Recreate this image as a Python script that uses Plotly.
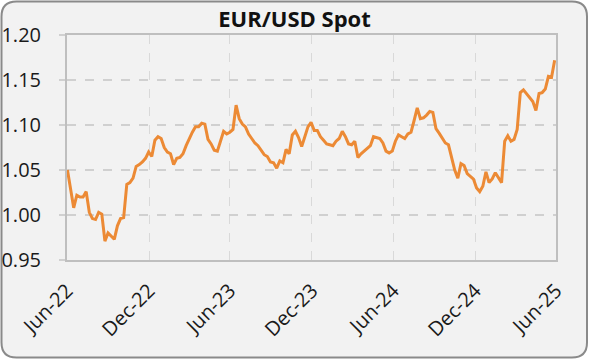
import pandas as pd
import plotly.graph_objects as go

# ---- data (weekly EUR/USD spot) ----
start_date = "2022-07-01"
eurusd = [
    1.050, 1.028, 1.008, 1.022, 1.020, 1.020, 1.026, 1.003, 0.996, 0.995,
    1.003, 1.001, 0.971, 0.980, 0.976, 0.973, 0.988, 0.996, 0.997, 1.034,
    1.036, 1.041, 1.054, 1.056, 1.059, 1.063, 1.070, 1.065, 1.083, 1.087,
    1.085, 1.075, 1.070, 1.068, 1.056, 1.063, 1.064, 1.068, 1.077, 1.085,
    1.092, 1.098, 1.098, 1.102, 1.101, 1.084, 1.079, 1.072, 1.071, 1.082,
    1.093, 1.090, 1.092, 1.095, 1.122, 1.107, 1.101, 1.098, 1.090, 1.085,
    1.080, 1.077, 1.072, 1.067, 1.065, 1.059, 1.058, 1.052, 1.060, 1.058,
    1.073, 1.068, 1.089, 1.093, 1.086, 1.076, 1.087, 1.098, 1.103, 1.094,
    1.094, 1.087, 1.083, 1.079, 1.078, 1.077, 1.082, 1.085, 1.093, 1.087,
    1.079, 1.078, 1.082, 1.064, 1.068, 1.071, 1.075, 1.077, 1.087, 1.086,
    1.085, 1.080, 1.071, 1.069, 1.071, 1.082, 1.089, 1.087, 1.085, 1.090,
    1.092, 1.105, 1.119, 1.107, 1.108, 1.111, 1.115, 1.114, 1.096, 1.091,
    1.085, 1.080, 1.078, 1.065, 1.050, 1.041, 1.057, 1.055, 1.046, 1.043,
    1.040, 1.030, 1.026, 1.032, 1.048, 1.036, 1.040, 1.047, 1.042, 1.036,
    1.082, 1.088, 1.082, 1.084, 1.095, 1.136, 1.139, 1.135, 1.130, 1.126,
    1.116, 1.135, 1.136, 1.140, 1.154, 1.153, 1.172,
]
dates = pd.date_range(start_date, periods=len(eurusd), freq="7D")

tick_dates = ["2022-06-30", "2022-12-31", "2023-06-30", "2023-12-31",
              "2024-06-30", "2024-12-31", "2025-06-30"]
tick_labels = ["Jun-22", "Dec-22", "Jun-23", "Dec-23", "Jun-24", "Dec-24", "Jun-25"]
y_ticks = [0.95, 1.00, 1.05, 1.10, 1.15, 1.20]
title_text = "EUR/USD Spot"

# ---- layout geometry ----
W, H = 589, 359
ML, MR, MT, MB = 67, 33, 35, 99
PW, PH = W - ML - MR, H - MT - MB

def px(x):
    return (x - ML) / PW

def py(y):
    return (H - MB - y) / PH

def rounded_rect(x0, y0, x1, y1, r):
    pts = [
        f"M {px(x0 + r)} {py(y0)}",
        f"L {px(x1 - r)} {py(y0)}",
        f"Q {px(x1)} {py(y0)} {px(x1)} {py(y0 + r)}",
        f"L {px(x1)} {py(y1 - r)}",
        f"Q {px(x1)} {py(y1)} {px(x1 - r)} {py(y1)}",
        f"L {px(x0 + r)} {py(y1)}",
        f"Q {px(x0)} {py(y1)} {px(x0)} {py(y1 - r)}",
        f"L {px(x0)} {py(y0 + r)}",
        f"Q {px(x0)} {py(y0)} {px(x0 + r)} {py(y0)}",
        "Z",
    ]
    return " ".join(pts)

FONT = "Open Sans"

fig = go.Figure()
fig.add_trace(go.Scatter(
    x=dates, y=eurusd, mode="lines",
    line=dict(color="#EC8A35", width=3),
    hoverinfo="skip", showlegend=False,
))

fig.update_layout(
    width=W, height=H,
    margin=dict(l=ML, r=MR, t=MT, b=MB, autoexpand=False),
    paper_bgcolor="white",
    plot_bgcolor="white",
    font=dict(family=FONT, size=20, color="#1a1a1a"),
    title=dict(text=f"<b>{title_text}</b>", x=0.5, xref="container", xanchor="center",
               y=1 - 19 / H, yref="container", yanchor="middle",
               font=dict(family=FONT, size=22, color="#111111")),
    shapes=[dict(
        type="path", xref="paper", yref="paper", layer="below",
        path=rounded_rect(1.5, 1.5, 587, 357.5, 15),
        fillcolor="#f2f2f2", line=dict(color="#8a8a8a", width=2),
    )],
    xaxis=dict(
        type="date", automargin=False,
        range=["2022-06-30", "2025-06-30"],
        tickvals=tick_dates, ticktext=tick_labels, tickangle=-45,
        showgrid=True, gridcolor="#d9d9d9", griddash="dash", gridwidth=1,
        showline=True, linecolor="#bfbfbf", linewidth=2, mirror=True,
        ticks="", zeroline=False, ticklabelstandoff=9,
        tickfont=dict(family=FONT, size=20, color="#1a1a1a"),
    ),
    yaxis=dict(
        automargin=False,
        range=[0.95, 1.20], tickvals=y_ticks, tickformat=".2f",
        showgrid=True, gridcolor="#d0d0d0", griddash="dash", gridwidth=1.5,
        showline=True, linecolor="#bfbfbf", linewidth=2, mirror=True,
        ticks="outside", ticklen=6, tickcolor="#d0d0d0", tickwidth=1.5,
        ticklabelstandoff=14, zeroline=False,
        tickfont=dict(family=FONT, size=20, color="#1a1a1a"),
    ),
)

fig.write_html("out.html")
